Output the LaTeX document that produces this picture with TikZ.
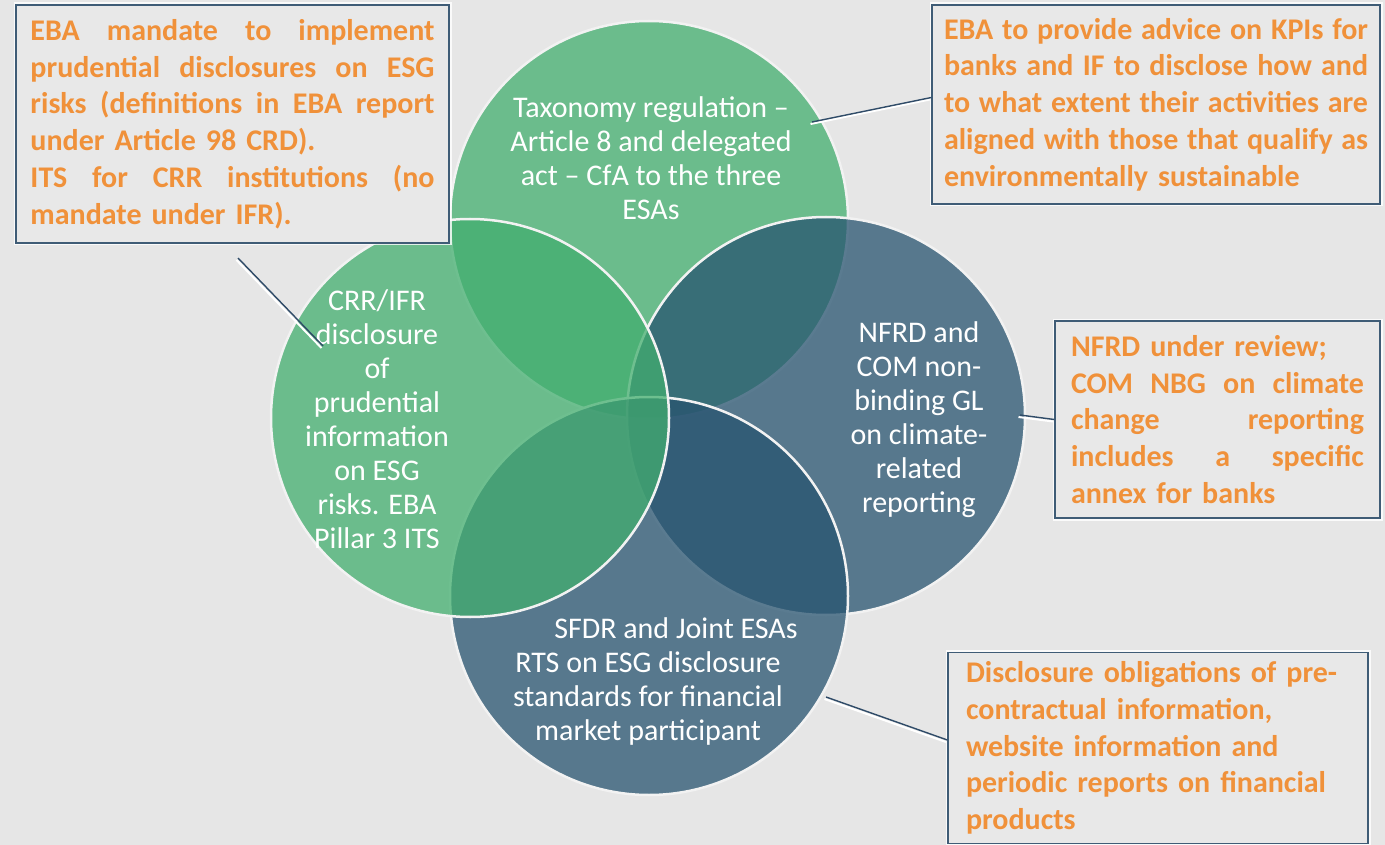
\documentclass[tikz,border=0pt]{standalone}
\usepackage{fontspec}
\setmainfont{Carlito}

\definecolor{bggrey}{HTML}{E6E6E6}
\definecolor{boxgrey}{HTML}{E8E8E8}
\definecolor{vgreen}{HTML}{42AE6F}
\definecolor{vblue}{HTML}{285470}
\definecolor{noteorange}{HTML}{F0913A}
\definecolor{noteline}{HTML}{3F5C76}
\definecolor{leadcol}{HTML}{2F4B68}

% justified line inside a note
\newcommand{\jl}[1]{\makebox[\linewidth][s]{\spaceskip=0pt\xspaceskip=0pt\relax #1}}

\tikzset{
  venn/.style={circle, minimum size=398pt, inner sep=0pt, fill opacity=0.75,
    draw=white!95!black, line width=2.5pt},
  venntext/.style={text=white, align=center, inner sep=0pt,
    font=\fontsize{30}{34}\selectfont},
  notebox/.style={draw=noteline, line width=1.3pt, fill=boxgrey, text=noteorange,
    align=left, inner sep=0pt, font=\fontsize{30}{36.7}\selectfont\bfseries,
    preaction={draw=white, line width=5pt, opacity=0.8}},
  leader/.style={draw=leadcol, line width=1.4pt,
    preaction={draw=white, line width=2pt, transform canvas={shift={(-1.5pt,-2pt)}}}}
}

\begin{document}
\begin{tikzpicture}[x=1pt, y=-1pt]
    \useasboundingbox (0,0) rectangle (1385,845);
    \fill[bggrey] (0,0) rectangle (1385,845);

    % the four circles
    \foreach \n/\x/\y/\c in {ctop/649/220/vgreen, cright/826/416/vblue, cbot/649/596/vblue, cleft/470/418/vgreen} {
        \node[venn, fill=\c] (\n) at (\x,\y) {};
    }

    % texts in the circles
    \node[venntext] (ttop) at (651,158) {Taxonomy regulation –\\Article 8 and delegated\\act – CfA to the three\\ESAs};
    \node[venntext] (tleft) at (377,419) {CRR/IFR\\disclosure\\of\\prudential\\information\\on ESG\\risks. EBA\\Pillar 3 ITS};
    \node[venntext] (tright) at (919,420) {NFRD and\\COM non-\\binding GL\\on climate-\\related\\reporting};
    \node[venntext] (tbot) at (648,681) {\hspace*{56pt}SFDR and Joint ESAs\\RTS on ESG disclosure\\standards for financial\\market participant};

    % notes
    \node[notebox, minimum width=433pt, minimum height=238pt, text width=404pt] (nprud) at (232.5,124) {%
        \jl{EBA mandate to implement}\\
        \jl{prudential disclosures on ESG}\\
        \jl{risks (definitions in EBA report}\\
        under Article 98 CRD).\\
        \jl{ITS for CRR institutions (no}\\
        mandate under IFR).};
    \node[notebox, minimum width=448pt, minimum height=199pt, text width=424pt] (ntaxo) at (1156,104.5) {%
        \jl{EBA to provide advice on KPIs for}\\
        \jl{banks and IF to disclose how and}\\
        \jl{to what extent their activities are}\\
        \jl{aligned with those that qualify as}\\
        environmentally sustainable};
    \node[notebox, minimum width=325pt, minimum height=197pt, text width=293pt] (nnfrd) at (1217.5,419.5) {%
        NFRD under review;\\
        \jl{COM NBG on climate}\\
        \jl{change reporting}\\
        \jl{includes a specific}\\
        annex for banks};
    \node[notebox, minimum width=420pt, minimum height=191pt, text width=384pt] (nsfdr) at (1158,748) {%
        Disclosure obligations of pre-\\
        contractual information,\\
        website information and\\
        periodic reports on financial\\
        products};

    % leader lines
    \coordinate (pprud) at (238,258);
    \coordinate (qprud) at (323,346);
    \coordinate (ptaxo) at (812,122);
    \coordinate (pnfrd) at (1020,415);
    \coordinate (psfdr) at (826,697);
    \draw[leader] (pprud) -- (qprud);
    \draw[leader] (ptaxo) -- ([yshift=7pt]ntaxo.west);
    \draw[leader] (pnfrd) -- (nnfrd.west);
    \draw[leader] (psfdr) -- ([yshift=8pt]nsfdr.west);
\end{tikzpicture}
\end{document}
